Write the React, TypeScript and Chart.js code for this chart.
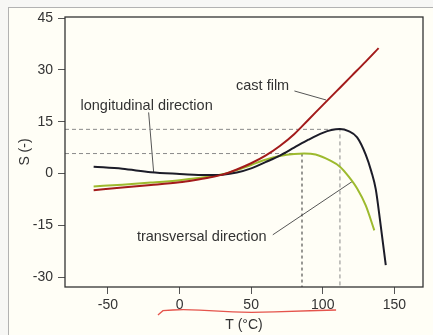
import React, { useEffect, useRef } from "react";
import { Chart, registerables } from "chart.js";

Chart.register(...registerables);

// ---- data ----
const castT = [-60, -40, -20, 0, 10, 20, 30, 40, 50, 60, 70, 80, 90, 100, 110, 120, 130, 139];
const castS = [-4.8, -4.0, -3.3, -2.5, -1.9, -1.2, -0.3, 1.2, 3.0, 5.2, 8.0, 11.4, 15.6, 19.8, 24.0, 28.2, 32.4, 36.3];

const longT = [-60, -40, -20, 0, 10, 20, 30, 40, 50, 60, 70, 80, 90, 100, 106, 112, 118, 124, 130, 134, 137, 140, 144];
const longS = [2.0, 1.4, 0.4, -0.1, -0.3, -0.4, -0.3, 0.3, 1.5, 3.3, 5.2, 7.5, 9.8, 11.8, 12.6, 12.9, 12.3, 10.5, 5.5, 0.5, -4.5, -13.5, -26.5];

const transT = [-60, -40, -20, 0, 10, 20, 30, 40, 50, 60, 70, 80, 87, 95, 105, 112, 118, 124, 130, 136];
const transS = [-3.7, -3.2, -2.6, -1.9, -1.4, -0.9, -0.2, 1.0, 2.5, 4.0, 5.1, 5.7, 5.8, 5.5, 3.8, 2.0, -0.8, -4.3, -9.2, -16.4];

// reference (dashed) lines: peaks of longitudinal / transversal
const peakLongT = 112;
const peakLongS = 12.8;
const peakTransT = 85.5;
const peakTransS = 5.8;

// annotation pointer lines
const longPointerT = [-21.6, -18.1];
const longPointerS = [17.7, 0.4];
const castPointerT = [80.2, 102.3];
const castPointerS = [23.9, 21.3];
const transPointerT = [65.1, 120.9];
const transPointerS = [-17.7, -2.2];

const labelTexts = ["longitudinal direction", "cast film", "transversal direction"];
const labelT = [-23, 58, 15.5];
const labelS = [19.7, 25.3, -18.2];

const xTicks = [-50, 0, 50, 100, 150];
const yTicks = [-30, -15, 0, 15, 30, 45];
const xMin = -80;
const xMax = 170;
const yMin = -32.8;
const yMax = 45.3;

const xTitle = "T (°C)";
const yTitle = "S (-)";

const FONT = "'Liberation Sans', Arial, sans-serif";

const zip = (xs: number[], ys: number[]) => xs.map((x, i) => ({ x, y: ys[i] }));

export default function App() {
  const ref = useRef<HTMLCanvasElement | null>(null);

  useEffect(() => {
    if (!ref.current) return;

    const decor = {
      id: "decor",
      afterDatasetsDraw(chart: any) {
        const { ctx, chartArea } = chart;
        const xs = chart.scales.x;
        const ys = chart.scales.y;
        ctx.save();
        // plot box
        ctx.strokeStyle = "#333";
        ctx.lineWidth = 1.3;
        ctx.strokeRect(chartArea.left, chartArea.top, chartArea.right - chartArea.left, chartArea.bottom - chartArea.top);
        // labels
        ctx.fillStyle = "#333";
        ctx.font = `14.5px ${FONT}`;
        ctx.textAlign = "center";
        ctx.textBaseline = "middle";
        labelTexts.forEach((t, i) => {
          ctx.fillText(t, xs.getPixelForValue(labelT[i]), ys.getPixelForValue(labelS[i]));
        });
        // hand-drawn red squiggle under the x tick labels
        const b = chartArea.bottom;
        const pts: [number, number][] = [
          [-15.1, 28], [-11.6, 23.7], [2.3, 22.3], [25.6, 24], [48.8, 25.7], [83.7, 24], [109.3, 23],
        ];
        const pp = pts.map(([t, dy]) => [xs.getPixelForValue(t), b + dy]);
        ctx.strokeStyle = "#e5544c";
        ctx.lineWidth = 1.3;
        ctx.beginPath();
        ctx.moveTo(pp[0][0], pp[0][1]);
        ctx.lineTo(pp[1][0], pp[1][1]);
        for (let i = 1; i < pp.length - 1; i++) {
          const mx = (pp[i][0] + pp[i + 1][0]) / 2;
          const my = (pp[i][1] + pp[i + 1][1]) / 2;
          ctx.quadraticCurveTo(pp[i][0], pp[i][1], mx, my);
        }
        ctx.lineTo(pp[pp.length - 1][0], pp[pp.length - 1][1]);
        ctx.stroke();
        ctx.restore();
      },
    };

    const chart = new Chart(ref.current, {
      type: "line",
      data: {
        datasets: [
          {
            label: "cast film",
            data: zip(castT, castS),
            borderColor: "#a31b1b",
            borderWidth: 2,
            pointRadius: 0,
            cubicInterpolationMode: "monotone",
          },
          {
            label: "longitudinal direction",
            data: zip(longT, longS),
            borderColor: "#1c1c28",
            borderWidth: 2,
            pointRadius: 0,
            cubicInterpolationMode: "monotone",
          },
          {
            label: "transversal direction",
            data: zip(transT, transS),
            borderColor: "#9dba2e",
            borderWidth: 2,
            pointRadius: 0,
            cubicInterpolationMode: "monotone",
          },
          {
            label: "ref long",
            data: [
              { x: xMin, y: peakLongS },
              { x: peakLongT, y: peakLongS },
              { x: peakLongT, y: yMin },
            ],
            borderColor: "#8a8a8a",
            borderWidth: 1,
            borderDash: [4, 3],
            pointRadius: 0,
            tension: 0,
          },
          {
            label: "ref trans h",
            data: [
              { x: xMin, y: peakTransS },
              { x: peakTransT, y: peakTransS },
            ],
            borderColor: "#8a8a8a",
            borderWidth: 1,
            borderDash: [4, 3],
            pointRadius: 0,
            tension: 0,
          },
          {
            label: "ref trans v",
            data: [
              { x: peakTransT, y: peakTransS },
              { x: peakTransT, y: yMin },
            ],
            borderColor: "#333",
            borderWidth: 1,
            borderDash: [3, 3],
            pointRadius: 0,
            tension: 0,
          },
          {
            label: "ptr long",
            data: zip(longPointerT, longPointerS),
            borderColor: "#555",
            borderWidth: 1,
            pointRadius: 0,
          },
          {
            label: "ptr cast",
            data: zip(castPointerT, castPointerS),
            borderColor: "#555",
            borderWidth: 1,
            pointRadius: 0,
          },
          {
            label: "ptr trans",
            data: zip(transPointerT, transPointerS),
            borderColor: "#555",
            borderWidth: 1,
            pointRadius: 0,
          },
        ],
      },
      options: {
        responsive: false,
        animation: false,
        devicePixelRatio: 1,
        layout: { padding: { left: 0, right: 10, top: 17, bottom: 0 } },
        plugins: { legend: { display: false }, tooltip: { enabled: false } },
        scales: {
          x: {
            type: "linear",
            min: xMin,
            max: xMax,
            border: { display: false },
            grid: { drawOnChartArea: false, drawTicks: true, tickLength: 7, tickColor: "#555" },
            ticks: { color: "#333", font: { size: 14, family: FONT }, padding: 3, maxRotation: 0 },
            title: { display: true, text: xTitle, color: "#333", font: { size: 14, family: FONT }, padding: { top: 0, bottom: 1 } },
            afterBuildTicks: (s: any) => {
              s.ticks = xTicks.map((v) => ({ value: v }));
            },
            afterFit: (s: any) => {
              s.height = 48;
            },
          },
          y: {
            type: "linear",
            min: yMin,
            max: yMax,
            border: { display: false },
            grid: { drawOnChartArea: false, drawTicks: true, tickLength: 7, tickColor: "#555" },
            ticks: { color: "#333", font: { size: 14, family: FONT }, padding: 5 },
            title: { display: true, text: yTitle, color: "#333", font: { size: 14, family: FONT }, padding: { top: 17, bottom: 0 } },
            afterBuildTicks: (s: any) => {
              s.ticks = yTicks.map((v) => ({ value: v }));
            },
            afterFit: (s: any) => {
              s.width = 65;
            },
          },
        },
      },
      plugins: [decor],
    } as any);

    return () => chart.destroy();
  }, []);

  return (
    <div style={{ position: "fixed", left: 0, top: 0, width: 433, height: 335, background: "#f7f7f5", overflow: "hidden" }}>
      <div
        style={{
          position: "absolute",
          left: 8,
          top: 7,
          width: 440,
          height: 340,
          borderLeft: "1px solid #b2b2b2",
          borderTop: "1px solid #b2b2b2",
          background: "#fffef6",
        }}
      />
      <canvas ref={ref} width={433} height={335} style={{ position: "absolute", left: 0, top: 0, display: "block" }} />
    </div>
  );
}
